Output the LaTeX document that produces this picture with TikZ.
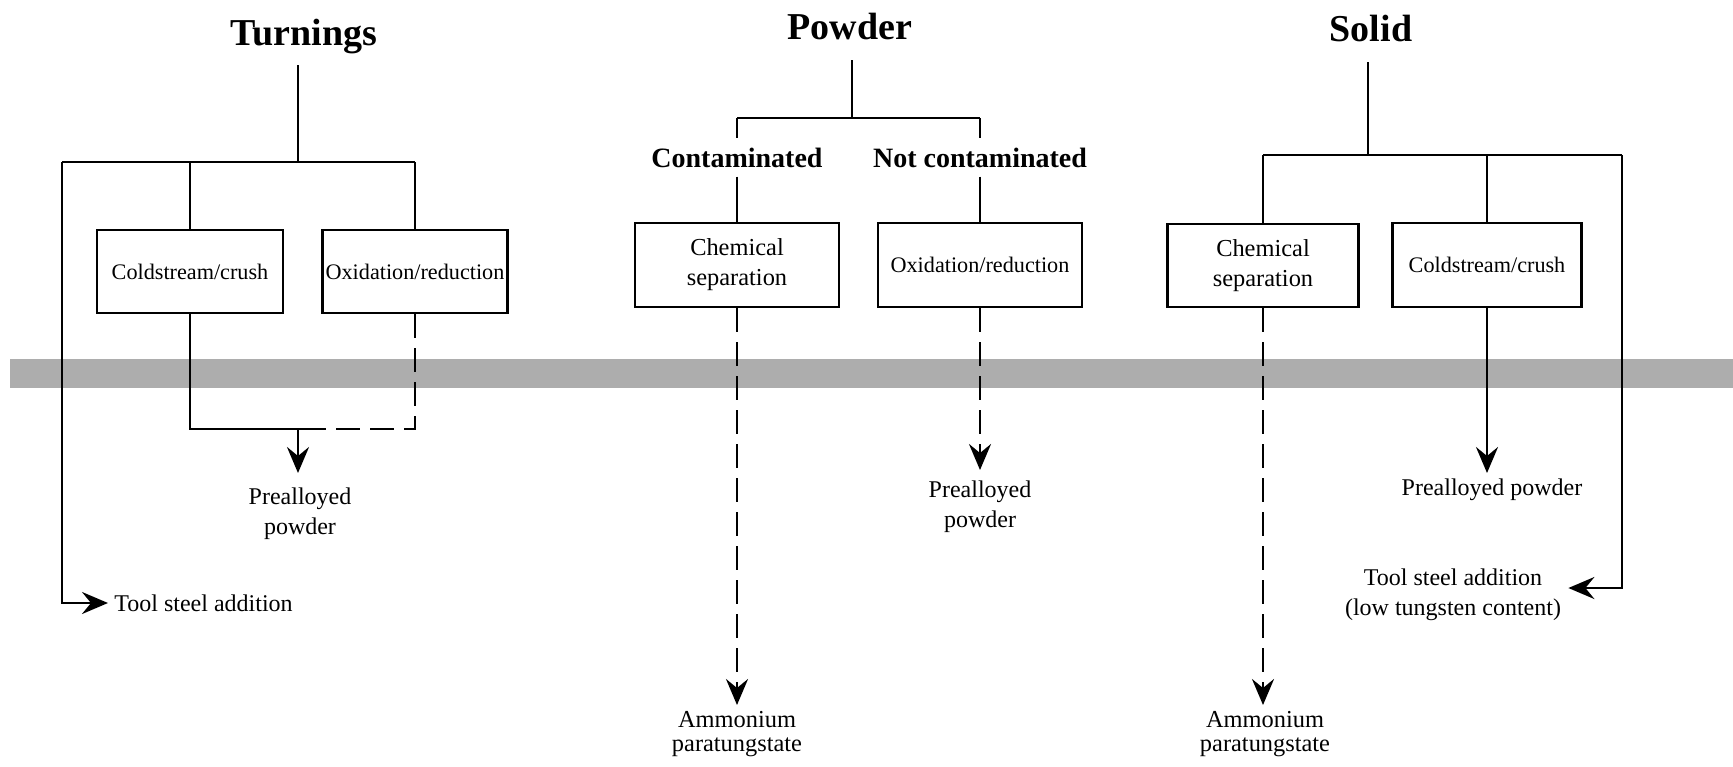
\documentclass[tikz,border=0pt]{standalone}
\usepackage{fontspec}
\setmainfont{Liberation Serif}
\usetikzlibrary{arrows.meta}
\begin{document}
\begin{tikzpicture}[x=0.5pt,y=-0.5pt,
  line width=1.4pt,
  proc/.style={draw, rectangle, align=center, inner sep=0pt,
    font=\fontsize{12.2}{15}\selectfont},
  narrowtxt/.style={font=\fontsize{11.1}{14}\selectfont},
  ttl/.style={font=\fontsize{19}{22}\bfseries\selectfont, inner sep=0pt, anchor=base},
  brn/.style={font=\fontsize{14}{16}\bfseries\selectfont, inner sep=4pt, anchor=base},
  res/.style={align=center, inner sep=0pt, font=\fontsize{12}{15}\selectfont},
  arr/.style={-{Stealth[length=13pt,width=11pt,inset=4.5pt]}},
  dsh/.style={dash pattern=on 12pt off 5pt},
]
\useasboundingbox (0,0) rectangle (1733,766);

% grey halftone band across the page
\fill[black!32] (10,359) rectangle (1733,388);

% ---------------- Turnings ----------------
\node[ttl] (tT) at (304,45) {Turnings};
\coordinate (tS) at (298,65);
\coordinate (tJ) at (298,162);
\coordinate (tL) at (62,162);
\coordinate (tR) at (415,162);
\node[proc, narrowtxt, minimum width=93pt, minimum height=41.5pt] (tC) at (190,271.5) {Coldstream/crush};
\node[proc, narrowtxt, minimum width=92.5pt, minimum height=41.5pt] (tO) at (415,271.5) {Oxidation/reduction};
\draw (tS) -- (tJ);
\draw (tL) -- (tR);
\draw (tC.north |- tJ) -- (tC.north);
\draw (tR) -- (tO.north);

\coordinate (tM) at (190,429);
\coordinate (tA) at (298,429);
\coordinate (tE) at (415,429);
\coordinate (tK) at (318,429);
\draw (tC.south) -- (tM) -- (tK);
\draw[dsh] (tO.south) -- (tE) -- (tK);
\node[res, anchor=north] (tP) at (300,486) {Prealloyed\\powder};
\draw[arr, shorten >=6.5pt] (tA) -- (tA |- tP.north);

\coordinate (tB) at (62,603);
\node[res, anchor=west] (tTS) at (113,603) {Tool steel addition};
\draw[arr, shorten >=2.5pt] (tL) -- (tB) -- (tTS.west);

% ---------------- Powder ----------------
\node[ttl] (pT) at (850,39) {Powder};
\coordinate (pS) at (852,60);
\coordinate (pJ) at (852,118);
\node[brn] (pc) at (737,167) {Contaminated};
\node[brn] (pn) at (980,167) {Not contaminated};
\draw (pS) -- (pJ);
\draw (pc.north |- pJ) -- (pn.north |- pJ);
\draw (pc.north |- pJ) -- (pc.north);
\draw (pn.north |- pJ) -- (pn.north);
\node[proc, minimum width=102pt, minimum height=42pt] (pcs) at (737,265) {Chemical\\separation};
\node[proc, narrowtxt, minimum width=102pt, minimum height=42pt] (po) at (980,265) {Oxidation/reduction};
\draw (pc.south) -- (pcs.north);
\draw (pn.south) -- (po.north);

\node[res, anchor=north, font=\fontsize{12.2}{12}\selectfont] (pa) at (737,710) {Ammonium\\paratungstate};
\draw[arr, dsh, shorten >=2.5pt] (pcs.south) -- (pa.north);
\node[res, anchor=north] (pp) at (980,479) {Prealloyed\\powder};
\draw[arr, dsh, shorten >=4.5pt] (po.south) -- (pp.north);

% ---------------- Solid ----------------
\node[ttl] (sT) at (1371,41) {Solid};
\coordinate (sS) at (1368,62);
\coordinate (sJ) at (1368,155);
\coordinate (sR) at (1622,155);
\node[proc, minimum width=95.5pt, minimum height=41.5pt] (scs) at (1263,265.5) {Chemical\\separation};
\node[proc, narrowtxt, minimum width=94.5pt, minimum height=42pt] (sco) at (1487,265) {Coldstream/crush};
\draw (sS) -- (sJ);
\draw (scs.north |- sJ) -- (sR);
\draw (scs.north |- sJ) -- (scs.north);
\draw (sco.north |- sJ) -- (sco.north);

\node[res, anchor=north] (spp) at (1492,477) {Prealloyed powder};
\draw[arr, shorten >=2pt] (sco.south) -- (sco.south |- spp.north);

\coordinate (sB) at (1622,588);
\node[res, anchor=north] (sts) at (1453,567) {Tool steel addition\\(low tungsten content)};
\draw[arr, shorten >=3pt] (sR) -- (sB) -- (sts.east |- sB);

\node[res, anchor=north, font=\fontsize{12.2}{12}\selectfont] (sa) at (1265,710) {Ammonium\\paratungstate};
\draw[arr, dsh, shorten >=2.5pt] (scs.south) -- (scs.south |- sa.north);
\end{tikzpicture}
\end{document}
